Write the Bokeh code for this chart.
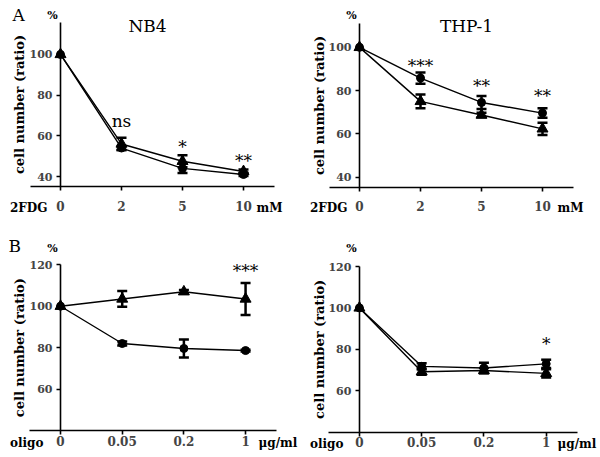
import math
from bokeh.plotting import figure
from bokeh.models import Range1d, FixedTicker, Label, Whisker, TeeHead, ColumnDataSource
from bokeh.layouts import column, row
from bokeh.embed import file_html
from bokeh.resources import INLINE
from bokeh.core.properties import value

FONT = "DejaVu Serif"

# ---------------- data ----------------
fdg_doses = ["0", "2", "5", "10"]
oligo_doses = ["0", "0.05", "0.2", "1"]

nb4_fdg_circle = [100, 54.0, 44.0, 41.0]
nb4_fdg_circle_err = [0, 1.0, 2.3, 0.8]
nb4_fdg_triangle = [100, 56.0, 47.5, 42.5]
nb4_fdg_triangle_err = [0, 3.0, 3.0, 1.0]
nb4_fdg_sig = ["", "ns", "*", "**"]
nb4_fdg_sig_y = [0, 67.0, 56.5, 49.8]

thp1_fdg_circle = [100, 85.8, 74.5, 69.6]
thp1_fdg_circle_err = [0, 2.6, 3.0, 2.2]
thp1_fdg_triangle = [100, 75.0, 68.7, 62.3]
thp1_fdg_triangle_err = [0, 3.2, 1.0, 2.8]
thp1_fdg_sig = ["", "***", "**", "**"]
thp1_fdg_sig_y = [0, 93.0, 84.2, 79.5]

nb4_oligo_circle = [100, 82.0, 79.6, 78.6]
nb4_oligo_circle_err = [0, 1.0, 4.3, 0.4]
nb4_oligo_triangle = [100, 103.5, 107.0, 103.5]
nb4_oligo_triangle_err = [0, 3.8, 0.8, 7.7]
nb4_oligo_sig = ["", "", "", "***"]
nb4_oligo_sig_y = [0, 0, 0, 118.7]

thp1_oligo_circle = [100, 71.8, 71.0, 73.0]
thp1_oligo_circle_err = [0, 1.5, 2.5, 2.0]
thp1_oligo_triangle = [100, 69.2, 69.8, 68.4]
thp1_oligo_triangle_err = [0, 1.5, 1.2, 2.0]
thp1_oligo_sig = ["", "", "", "*"]
thp1_oligo_sig_y = [0, 0, 0, 84.5]

fdg_yticks = [40, 60, 80, 100]
oligo_yticks = [60, 80, 100, 120]


def add_label(p, text, x, y, x_off, y_off, size, style="normal",
              align="center", baseline="middle", angle=0.0):
    p.add_layout(Label(x=x, y=y, x_offset=x_off, y_offset=y_off, text=text,
                       text_font=FONT, text_font_size=size, text_font_style=style,
                       text_align=align, text_baseline=baseline, angle=angle,
                       text_color="black"))


def make_panel(doses, circ, circ_err, tri, tri_err, sig, sig_y, y_lo, y_hi,
               yticks, title, letter, drug, unit, lay):
    n = len(doses)
    xs = list(range(n))
    W, H = lay["W"], lay["H"]
    # pixel geometry of the data area inside the canvas
    xsc = (lay["px_r"] - lay["px_l"]) / n
    x0 = -0.5 - lay["px_l"] / xsc
    ysc = (lay["py_b"] - lay["py_t"]) / (y_hi - y_lo)
    y1 = y_hi + lay["py_t"] / ysc
    p = figure(frame_width=W, frame_height=H, title=None,
               x_range=Range1d(x0, x0 + W / xsc), y_range=Range1d(y1 - H / ysc, y1),
               output_backend="svg", toolbar_location=None,
               min_border_left=0, min_border_right=0, min_border_top=0,
               min_border_bottom=0,
               background_fill_color="white", border_fill_color="white")
    p.outline_line_color = None
    p.grid.visible = False

    # axes (placed inside the frame)
    xa = p.xaxis[0]
    xa.fixed_location = y_lo
    xa.bounds = (-0.5, n - 0.5)
    xa.ticker = FixedTicker(ticks=xs)
    xa.major_label_overrides = {i: d for i, d in enumerate(doses)}
    xa.axis_line_width = 1.6
    xa.major_tick_line_width = 1.6
    xa.major_tick_out = 4
    xa.major_tick_in = 0
    xa.minor_tick_line_color = None
    xa.major_label_standoff = lay["standoff"]
    xa.major_label_text_font = FONT
    xa.major_label_text_font_size = "12px"
    xa.major_label_text_font_style = "bold"

    ya = p.yaxis[0]
    ya.fixed_location = 0
    ya.bounds = (y_lo, y_hi)
    ya.ticker = FixedTicker(ticks=yticks)
    ya.axis_line_width = 1.6
    ya.major_tick_line_width = 1.6
    ya.major_tick_out = 4
    ya.major_tick_in = 0
    ya.minor_tick_line_color = None
    ya.major_label_standoff = 4
    ya.major_label_text_font = FONT
    ya.major_label_text_font_size = "11px"
    ya.major_label_text_font_style = "bold"

    # series
    for ys, errs, marker, size in ((circ, circ_err, "circle", 8),
                                   (tri, tri_err, "triangle", 11)):
        p.line(xs, ys, line_color="black", line_width=1.4)
        p.scatter(xs, ys, marker=marker, size=size, fill_color="black",
                  line_color="black")
        idx = [i for i in xs if errs[i] > 0]
        src = ColumnDataSource(dict(base=[xs[i] for i in idx],
                                    upper=[ys[i] + errs[i] for i in idx],
                                    lower=[ys[i] - errs[i] for i in idx]))
        p.add_layout(Whisker(source=src, base="base", upper="upper", lower="lower",
                             line_width=2.5, line_color="black",
                             upper_head=TeeHead(size=10, line_width=2.5, line_color="black"),
                             lower_head=TeeHead(size=10, line_width=2.5, line_color="black")))

    # significance marks
    idx = [i for i in xs if sig[i]]
    p.text(x=[xs[i] for i in idx], y=[sig_y[i] for i in idx],
           text=[sig[i] for i in idx],
           y_offset=[4 if sig[i].startswith("*") else -1 for i in idx],
           text_font=value(FONT), text_font_size="17px", text_align="center",
           text_baseline="middle", text_color="#000000")

    # texts
    add_label(p, "cell number (ratio)", -0.5, (y_lo + y_hi) / 2, lay["ylab_x"], 0,
              "13px", "bold", angle=math.pi / 2)
    add_label(p, "%", 0, y_hi, -8, lay["pct"], "11px", "bold")
    if letter:
        add_label(p, letter, -0.5, y_hi, lay["letter_x"], lay["letter_y"], "17px",
                  align="left")
    if title:
        add_label(p, title, -0.5, y_hi, lay["title_x"], lay["title_y"], "17px")
    off = -(4 + lay["standoff"])
    add_label(p, drug, -0.5, y_lo, lay["drug_x"], off, "12px", "bold",
              align="right", baseline="top")
    add_label(p, unit, -0.5, y_lo, lay["unit_x"], off, "12px", "bold",
              align="left", baseline="top")
    return p


lay_tl = dict(W=300, H=230, px_l=29.5, px_r=273.5, py_t=22, py_b=186, standoff=10,
              pct=7, letter_x=-17.5, letter_y=7.5, title_x=117.5, title_y=-3.5,
              ylab_x=-10.5, drug_x=17.5, unit_x=226.5)
lay_tr = dict(W=300, H=230, px_l=28.5, px_r=272.5, py_t=23.3, py_b=186.7, standoff=10,
              pct=8, letter_x=0, letter_y=0, title_x=137.5, title_y=-1.7,
              ylab_x=-9.5, drug_x=18.5, unit_x=228.5)
lay_bl = dict(W=300, H=226, px_l=29.2, px_r=275.9, py_t=34.3, py_b=200, standoff=1,
              pct=16.3, letter_x=-21.2, letter_y=18.8, title_x=0, title_y=0,
              ylab_x=-10.2, drug_x=13.8, unit_x=228.8)
lay_br = dict(W=300, H=226, px_l=27.8, px_r=276.8, py_t=36, py_b=201.7, standoff=1,
              pct=18, letter_x=0, letter_y=0, title_x=0, title_y=0,
              ylab_x=-8.8, drug_x=15.2, unit_x=229.2)

p_tl = make_panel(fdg_doses, nb4_fdg_circle, nb4_fdg_circle_err, nb4_fdg_triangle,
                  nb4_fdg_triangle_err, nb4_fdg_sig, nb4_fdg_sig_y, 35.1, 115.7,
                  fdg_yticks, "NB4", "A", "2FDG", "mM", lay_tl)
p_tr = make_panel(fdg_doses, thp1_fdg_circle, thp1_fdg_circle_err, thp1_fdg_triangle,
                  thp1_fdg_triangle_err, thp1_fdg_sig, thp1_fdg_sig_y, 35.3, 110.9,
                  fdg_yticks, "THP-1", "", "2FDG", "mM", lay_tr)
p_bl = make_panel(oligo_doses, nb4_oligo_circle, nb4_oligo_circle_err, nb4_oligo_triangle,
                  nb4_oligo_triangle_err, nb4_oligo_sig, nb4_oligo_sig_y, 40, 120,
                  oligo_yticks, "", "B", "oligo", "\u03bcg/ml", lay_bl)
p_br = make_panel(oligo_doses, thp1_oligo_circle, thp1_oligo_circle_err, thp1_oligo_triangle,
                  thp1_oligo_triangle_err, thp1_oligo_sig, thp1_oligo_sig_y, 40, 120,
                  oligo_yticks, "", "", "oligo", "\u03bcg/ml", lay_br)

layout = column(row(p_tl, p_tr), row(p_bl, p_br))
open("out.html", "w").write(file_html(layout, INLINE))
